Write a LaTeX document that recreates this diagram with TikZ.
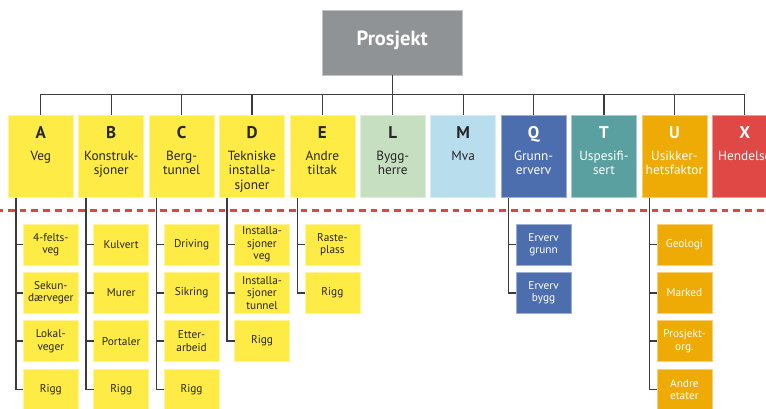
\documentclass[tikz,border=0pt]{standalone}
\usepackage{fontspec}
\setmainfont{PT Sans}
\usetikzlibrary{calc}

\definecolor{wbsyellow}{HTML}{FEEB45}
\definecolor{wbsgreen}{HTML}{C6DFC0}
\definecolor{wbslblue}{HTML}{B8DDEC}
\definecolor{wbsblue}{HTML}{4C6EAE}
\definecolor{wbsteal}{HTML}{5BA0A0}
\definecolor{wbsorange}{HTML}{EEAA05}
\definecolor{wbsred}{HTML}{DF4845}
\definecolor{wbsgray}{HTML}{909396}
\definecolor{wbsdark}{HTML}{262626}
\definecolor{wbsline}{HTML}{3C3C3C}
\definecolor{wbsdash}{HTML}{E2434B}

\begin{document}
\begin{tikzpicture}[x=1pt,y=-1pt,
  hdr/.style={fill=#1, draw=#1!55!white, line width=0.6pt, outer sep=0pt,
    minimum width=65pt, minimum height=82.7pt, inner sep=0pt, anchor=north west},
  subbox/.style={fill=#1, draw=#1!55!white, line width=0.6pt, outer sep=0pt,
    minimum width=55pt, minimum height=41pt, inner sep=0pt, anchor=north west,
    align=center, font=\fontsize{11.3}{12.4}\selectfont},
  letter/.style={font=\bfseries\fontsize{17}{17}\selectfont, inner sep=0pt, anchor=base},
  desc/.style={font=\fontsize{13.3}{14.5}\selectfont, inner sep=0pt, anchor=north, align=center},
  bus/.style={draw=wbsline, line width=1.2pt},
  branch/.style={draw=wbsline, line width=1.7pt},
  reddash/.style={draw=wbsdash, line width=2.6pt, dash pattern=on 6.7pt off 5pt, dash phase=-8pt}
]
\useasboundingbox (0,0) rectangle (766,408);
\clip (0,0) rectangle (766,408);

% boundary between summary and detail levels
\draw[reddash] (0,210.7) -- (766,210.7);

% project root
\node[fill=wbsgray, draw=wbsgray!55!white, line width=0.6pt, outer sep=0pt,
      minimum width=140.3pt, minimum height=65pt, inner sep=0pt] (P) at (392.2,42.8) {};
\node[font=\bfseries\fontsize{20.5}{20.5}\selectfont, text=white, inner sep=0pt, anchor=base]
  (Ptxt) at (392.2,45.7) {Prosjekt};

% main cost categories
\foreach \idx/\ltr/\dsc/\col/\tcol in {
  0/A/Veg/wbsyellow/wbsdark,
  1/B/{Konstruk-\\sjoner}/wbsyellow/wbsdark,
  2/C/{Berg-\\tunnel}/wbsyellow/wbsdark,
  3/D/{Tekniske\\installa-\\sjoner}/wbsyellow/wbsdark,
  4/E/{Andre\\tiltak}/wbsyellow/wbsdark,
  5/L/{Bygg-\\herre}/wbsgreen/wbsdark,
  6/M/Mva/wbslblue/wbsdark,
  7/Q/{Grunn-\\erverv}/wbsblue/white,
  8/T/{Uspesifi-\\sert}/wbsteal/white,
  9/U/{Usikker-\\hetsfaktor}/wbsorange/white,
  10/X/Hendelse/wbsred/white}{
  \node[hdr=\col] (h\ltr) at ({8.3+70.4*\idx},115) {};
  \node[letter, text=\tcol] (h\ltr-k) at ($(h\ltr.north)+(0,23.3)$) {\ltr};
  \node[desc, text=\tcol] (h\ltr-d) at ($(h\ltr.north)+(0,35.8)$) {\dsc};
}

% bus from the project down to each category
\coordinate (busy) at (392.2,94.3);
\draw[bus] (P.south) -- (P.south |- busy);
\draw[bus] (hA.north |- busy) -- (hX.north |- busy);
\foreach \ltr in {A,B,C,D,E,L,M,Q,T,U,X}{
  \draw[bus] (h\ltr.north |- busy) -- (h\ltr.north);
}

% detailed sub-items
\foreach \ltr/\k/\txt/\col/\tcol in {
  A/0/{4-felts-\\veg}/wbsyellow/wbsdark,
  A/1/{Sekun-\\dærveger}/wbsyellow/wbsdark,
  A/2/{Lokal-\\veger}/wbsyellow/wbsdark,
  A/3/Rigg/wbsyellow/wbsdark,
  B/0/Kulvert/wbsyellow/wbsdark,
  B/1/Murer/wbsyellow/wbsdark,
  B/2/Portaler/wbsyellow/wbsdark,
  B/3/Rigg/wbsyellow/wbsdark,
  C/0/Driving/wbsyellow/wbsdark,
  C/1/Sikring/wbsyellow/wbsdark,
  C/2/{Etter-\\arbeid}/wbsyellow/wbsdark,
  C/3/Rigg/wbsyellow/wbsdark,
  D/0/{Installa-\\sjoner\\veg}/wbsyellow/wbsdark,
  D/1/{Installa-\\sjoner\\tunnel}/wbsyellow/wbsdark,
  D/2/Rigg/wbsyellow/wbsdark,
  E/0/{Raste-\\plass}/wbsyellow/wbsdark,
  E/1/Rigg/wbsyellow/wbsdark,
  Q/0/{Erverv\\grunn}/wbsblue/white,
  Q/1/{Erverv\\bygg}/wbsblue/white,
  U/0/Geologi/wbsorange/white,
  U/1/Marked/wbsorange/white,
  U/2/{Prosjekt-\\org.}/wbsorange/white,
  U/3/{Andre\\etater}/wbsorange/white}{
  \node[subbox=\col, text=\tcol] (s\ltr\k) at ($(h\ltr.south west)+(15,{26.3+48.3*\k})$) {\txt};
  \draw[branch] ($(h\ltr.south west)+(7.5,0)$) |- (s\ltr\k.west);
}
\end{tikzpicture}
\end{document}
